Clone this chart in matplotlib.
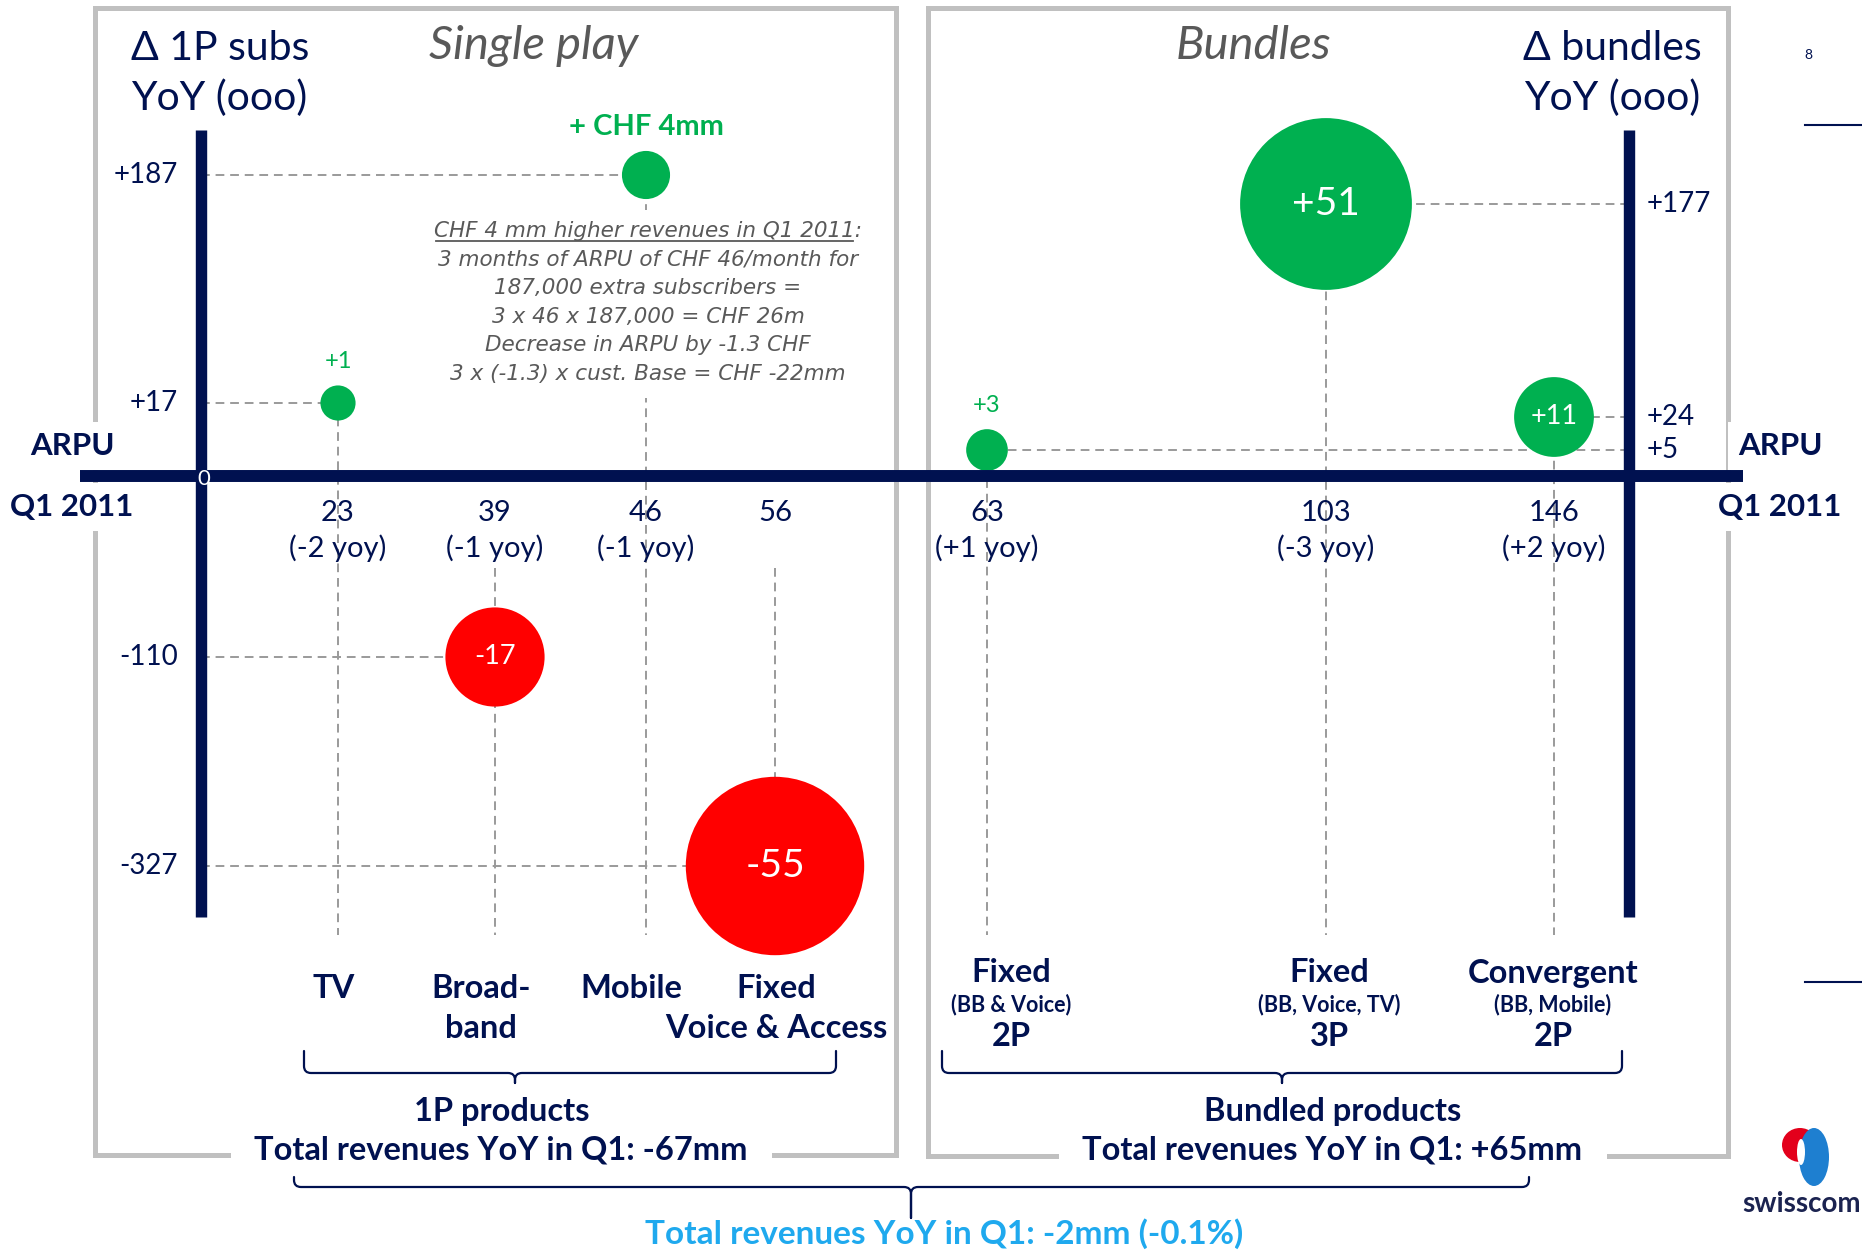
import numpy as np
import matplotlib
matplotlib.use("Agg")
import matplotlib.pyplot as plt
import matplotlib.transforms as mtransforms
from matplotlib.path import Path
from matplotlib.patches import PathPatch, Ellipse, Rectangle

plt.rcParams['font.family'] = ['Lato', 'DejaVu Sans']

# ---- data ----
# single play products
sp_top = ["TV", "Broad-", "Mobile", "Fixed"]
sp_bottom = ["", "band", "", "Voice & Access"]
sp_arpu = [23, 39, 46, 56]
sp_arpu_yoy = ["(-2 yoy)", "(-1 yoy)", "(-1 yoy)", ""]
sp_subs = [17, -110, 187, -327]          # delta subs YoY (000)
sp_rev = [1, -17, 4, -55]                # delta revenues (CHF mm)
sp_rev_lbl = ["+1", "-17", "+ CHF 4mm", "-55"]
sp_ticks = ["+187", "+17", "-110", "-327"]
sp_tick_vals = [187, 17, -110, -327]

# bundles
bd_top = ["Fixed", "Fixed", "Convergent"]
bd_mid = ["(BB & Voice)", "(BB, Voice, TV)", "(BB, Mobile)"]
bd_bottom = ["2P", "3P", "2P"]
bd_arpu = [63, 103, 146]
bd_arpu_yoy = ["(+1 yoy)", "(-3 yoy)", "(+2 yoy)"]
bd_subs = [5, 177, 24]
bd_rev = [3, 51, 11]
bd_rev_lbl = ["+3", "+51", "+11"]
bd_ticks = ["+177", "+24", "+5"]
bd_tick_vals = [177, 24, 5]

note_lines = ["CHF 4 mm higher revenues in Q1 2011:",
              "3 months of ARPU of CHF 46/month for",
              "187,000 extra subscribers =",
              "3 x 46 x 187,000 = CHF 26m",
              "Decrease in ARPU by -1.3 CHF",
              "3 x (-1.3) x cust. Base = CHF -22mm"]

total_1p = "Total revenues YoY in Q1: -67mm"
total_bd = "Total revenues YoY in Q1: +65mm"
total_all = "Total revenues YoY in Q1: -2mm (-0.1%)"

# ---- layout ----
W, H = 1862, 1250
NAVY = "#001150"
GREEN = "#00b050"
RED = "#ff0000"
GREY = "#595959"
DASH = "#9a9a9a"
BOXC = "#c0c0c0"
LBLUE = "#1fa9ee"

# the slide uses a schematic (uneven) spacing, so map values -> pixels piecewise
x_vals = [0] + sp_arpu + bd_arpu
x_px = [201, 338, 495, 646, 775, 987, 1326, 1554]
yl_vals = [-327, -110, 0, 17, 187]
yl_px = [866, 657, 476, 403, 175]
yr_vals = [0, 5, 24, 177]
yr_px = [476, 450, 417, 204]


def make_scale(vals, pos):
    v = np.asarray(vals, float)
    p = np.asarray(pos, float)

    def lin(x, a, b):
        x = np.asarray(x, float)
        y = np.interp(x, a, b)
        lo = (b[1] - b[0]) / (a[1] - a[0])
        hi = (b[-1] - b[-2]) / (a[-1] - a[-2])
        y = np.where(x < a[0], b[0] + (x - a[0]) * lo, y)
        y = np.where(x > a[-1], b[-1] + (x - a[-1]) * hi, y)
        return y

    return (lambda x: lin(x, v, p)), (lambda x: lin(x, p, v))


fig = plt.figure(figsize=(W / 100, H / 100), dpi=100)
fig.patch.set_facecolor("white")


def overlay(z):
    a = fig.add_axes([0, 0, 1, 1], zorder=z)
    a.set_xlim(0, W)
    a.set_ylim(H, 0)
    a.axis("off")
    a.patch.set_visible(False)
    return a


def data_axes(yvals, ypx, z):
    a = fig.add_axes([0, 0, 1, 1], zorder=z)
    fx = make_scale(x_vals, x_px)
    fy = make_scale(yvals, [H - p for p in ypx])
    a.set_xscale("function", functions=fx)
    a.set_yscale("function", functions=fy)
    a.set_xlim(float(fx[1](0)), float(fx[1](W)))
    a.set_ylim(float(fy[1](0)), float(fy[1](H)))
    a.axis("off")
    a.patch.set_visible(False)
    return a


back = overlay(0)
ax_l = data_axes(yl_vals, yl_px, 1)
ax_r = data_axes(yr_vals, yr_px, 2)
front = overlay(3)


def px2data(ax, px, py):
    return ax.transData.inverted().transform(front.transData.transform((px, py)))


# panel frames (gaps at the bottom for the totals)
back.plot([228, 95, 95, 896, 896, 774], [1155, 1155, 8, 8, 1155, 1155],
          color=BOXC, lw=3.6, solid_joinstyle="miter")
back.plot([1056, 928, 928, 1728, 1728, 1609], [1156, 1156, 8, 8, 1156, 1156],
          color=BOXC, lw=3.6, solid_joinstyle="miter")

# right edge slide lines
front.plot([1805, W], [125, 125], color=NAVY, lw=1.5)
front.plot([1805, W], [982, 982], color=NAVY, lw=1.5)
front.text(1808, 55, "8", color=NAVY, fontsize=10, ha="center", va="center")

# ---- dashed guide lines + bubbles ----
dash_kw = dict(color=DASH, lw=1.4, dashes=(4.5, 3), zorder=1)
y_bottom_px = 935
y_below_lbl_px = 568


def draw_group(ax, arpu, subs, rev, lbls, x_axis_px):
    yb = px2data(ax, 0, y_bottom_px)[1]
    yt = px2data(ax, 0, y_below_lbl_px)[1]
    xa = px2data(ax, x_axis_px, 0)[0]
    for a, s in zip(arpu, subs):
        ax.plot([xa, a], [s, s], **dash_kw)
        ax.plot([a, a], [s if s > 0 else yt, yb], **dash_kw)
    rev = np.asarray(rev, float)
    sizes = np.maximum(300 * np.abs(rev), 640)
    cols = [GREEN if r > 0 else RED for r in rev]
    ax.scatter(arpu, subs, s=sizes, c=cols, edgecolors="none", zorder=3)
    for a, s, r, sz, lab in zip(arpu, subs, rev, sizes, lbls):
        rad = np.sqrt(sz) / 2
        if abs(r) < 10:
            big = lab.startswith("+ CHF")
            ax.annotate(lab, (a, s), xytext=(0, rad + 17), textcoords="offset points",
                        ha="center", va="center", color=GREEN,
                        fontsize=21 if big else 17,
                        fontweight="bold" if big else "normal", zorder=4)
        else:
            ax.text(a, s, lab, ha="center", va="center", color="white",
                    fontsize=28 if abs(r) > 40 else 19.5, zorder=4)


draw_group(ax_l, sp_arpu, sp_subs, sp_rev, sp_rev_lbl, 201)
draw_group(ax_r, bd_arpu, bd_subs, bd_rev, bd_rev_lbl, 1629)

# ---- axes ----
front.plot([80, 1743], [476, 476], color=NAVY, lw=8.6, solid_capstyle="butt", zorder=5)
front.plot([201, 201], [130, 917], color=NAVY, lw=8.2, solid_capstyle="butt", zorder=5)
front.plot([1629, 1629], [130, 917], color=NAVY, lw=8.2, solid_capstyle="butt", zorder=5)
front.text(204, 479, "0", color="white", fontsize=16, ha="center", va="center", zorder=6)

# ARPU labels (white boxes break the frame)
lbl_kw = dict(color=NAVY, fontsize=22.5, fontweight="bold", ha="center", va="center",
              bbox=dict(fc="white", ec="none", pad=7), zorder=3)
front.text(72, 446, "ARPU", **lbl_kw)
front.text(72, 507, "Q1 2011", **lbl_kw)
front.text(1780, 446, "ARPU", **lbl_kw)
front.text(1780, 507, "Q1 2011", **lbl_kw)

# headers
front.text(131, 48, "Δ 1P subs", color=NAVY, fontsize=29.5, ha="left", va="center")
front.text(131, 98, "YoY (ooo)", color=NAVY, fontsize=29.5, ha="left", va="center")
front.text(1702, 48, "Δ bundles", color=NAVY, fontsize=29.5, ha="right", va="center")
front.text(1700, 98, "YoY (ooo)", color=NAVY, fontsize=29.5, ha="right", va="center")
front.text(534, 46, "Single play", color=GREY, fontsize=34, style="italic",
           ha="center", va="center")
front.text(1253, 46, "Bundles", color=GREY, fontsize=34, style="italic",
           ha="center", va="center")

# y tick labels
tr_yl = mtransforms.blended_transform_factory(front.transData, ax_l.transData)
for v, t in zip(sp_tick_vals, sp_ticks):
    front.text(178, v, t, transform=tr_yl, color=NAVY, fontsize=20, ha="right", va="center")
tr_yr = mtransforms.blended_transform_factory(front.transData, ax_r.transData)
for v, t in zip(bd_tick_vals, bd_ticks):
    front.text(1647, v, t, transform=tr_yr, color=NAVY, fontsize=20, ha="left", va="center")

# x tick labels
tr_x = mtransforms.blended_transform_factory(ax_l.transData, front.transData)
for a, yy in zip(sp_arpu + bd_arpu, sp_arpu_yoy + bd_arpu_yoy):
    front.text(a, 513, str(a), transform=tr_x, color=NAVY, fontsize=21, ha="center", va="center")
    front.text(a, 548, yy, transform=tr_x, color=NAVY, fontsize=21, ha="center", va="center")

# annotation for mobile
front.add_patch(Rectangle((425, 210), 446, 188, fc="white", ec="none", zorder=1))
note_kw = dict(color=GREY, fontsize=15.5, style="italic", family=["DejaVu Sans"],
               ha="center", va="baseline", zorder=3)
for i, line in enumerate(note_lines):
    t = front.text(648, 237 + i * 28.6, line, **note_kw)
    if i == 0:
        first = t
rend = fig.canvas.get_renderer()
bb = first.get_window_extent(renderer=rend)
colon = front.text(0, 0, ":", **note_kw)
cw = colon.get_window_extent(renderer=rend).width
colon.remove()
ux0 = front.transData.inverted().transform((bb.x0 + 2, 0))[0]
ux1 = front.transData.inverted().transform((bb.x1 - cw - 2, 0))[0]
front.plot([ux0, ux1], [240.5, 240.5], color=GREY, lw=1.3, zorder=3)

# category labels
cat_kw = dict(color=NAVY, fontsize=23.5, fontweight="bold", ha="center", va="center")
sp_lbl_px = [334, 481, 631, 776]
for x, t1, t2 in zip(sp_lbl_px, sp_top, sp_bottom):
    front.text(x, 989, t1, **cat_kw)
    front.text(x, 1028, t2, **cat_kw)
bd_lbl_px = [1011, 1329, 1553]
for x, t1, t2, t3 in zip(bd_lbl_px, bd_top, bd_mid, bd_bottom):
    front.text(x, 973, t1, **cat_kw)
    front.text(x, 1005, t2, color=NAVY, fontsize=15.5, fontweight="bold", ha="center", va="center")
    front.text(x, 1037, t3, **cat_kw)


# braces
def brace(ax, x0, x1, xm, ytop, yline, ytip, r=7):
    verts = [(x0, ytop), (x0, yline - r), (x0, yline), (x0 + r, yline),
             (xm - r, yline), (xm, yline), (xm, yline + r), (xm, ytip),
             (xm, yline + r), (xm, yline), (xm + r, yline),
             (x1 - r, yline), (x1, yline), (x1, yline - r), (x1, ytop)]
    codes = [Path.MOVETO, Path.LINETO, Path.CURVE3, Path.CURVE3,
             Path.LINETO, Path.CURVE3, Path.CURVE3, Path.LINETO,
             Path.LINETO, Path.CURVE3, Path.CURVE3,
             Path.LINETO, Path.CURVE3, Path.CURVE3, Path.LINETO]
    ax.add_patch(PathPatch(Path(verts, codes), fill=False, ec=NAVY, lw=1.6,
                           joinstyle="round", capstyle="round"))


brace(front, 304, 836, 515, 1051, 1073, 1083)
brace(front, 942, 1622, 1282, 1051, 1073, 1083)
brace(front, 294, 1529, 911, 1177, 1187, 1218)

tot_kw = dict(color=NAVY, fontsize=23.5, fontweight="bold", ha="center", va="center")
front.text(502, 1111, "1P products", **tot_kw)
front.text(501, 1150, total_1p, **tot_kw)
front.text(1333, 1111, "Bundled products", **tot_kw)
front.text(1332, 1150, total_bd, **tot_kw)
front.text(944, 1234, total_all, color=LBLUE, fontsize=24, fontweight="bold",
           ha="center", va="center")

# swisscom logo (approximation)
front.add_patch(Ellipse((1800, 1145), 36, 34, fc="#e3001b", ec="none"))
front.add_patch(Ellipse((1814, 1157), 30, 58, fc="#1e7fd0", ec="none"))
front.add_patch(Ellipse((1801, 1152), 8, 26, fc="white", ec="none"))
front.text(1742, 1204, "swisscom", color="#1b2350", fontsize=20, fontweight="bold",
           ha="left", va="center")

fig.savefig("out.png", dpi=100, facecolor="white")
